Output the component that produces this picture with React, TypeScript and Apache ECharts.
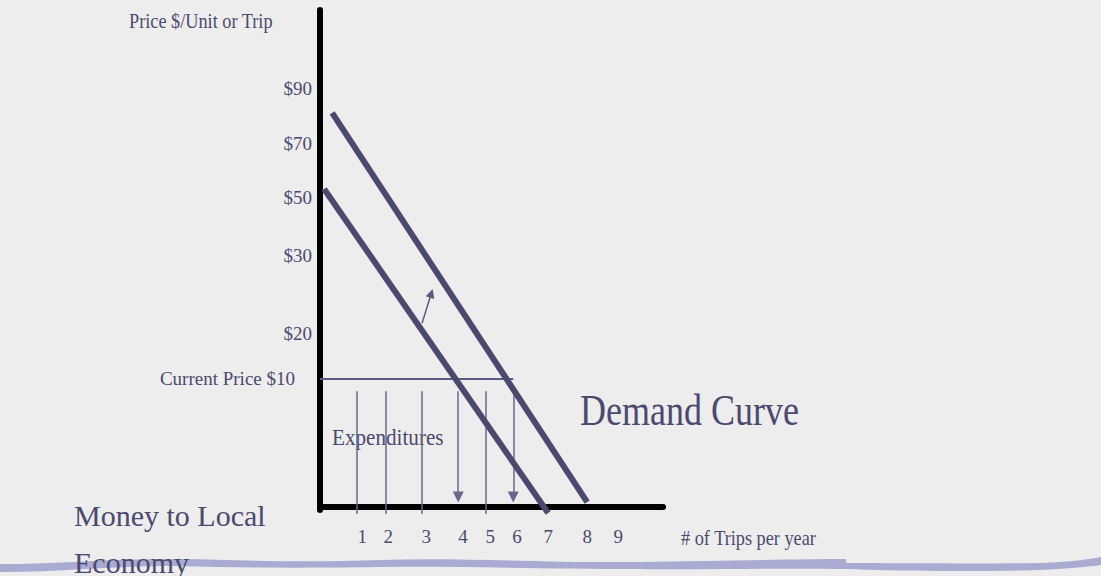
import React, { useEffect, useRef } from "react";
import * as echarts from "echarts";

// ---- data (in axis units) ----
const tripLabels = ["1", "2", "3", "4", "5", "6", "7", "8", "9"];
const tripLabelPos = [1.04, 1.85, 3.04, 4.19, 5.04, 5.88, 6.85, 8.07, 9.04];

const priceLabels = ["$90", "$70", "$50", "$30", "$20", "Current Price $10"];
const priceLevels = [84.3, 73.2, 62.2, 50.7, 35.0, 25.8];

const demandOriginal = [[-0.15, 64.0], [6.85, -1.2]];
const demandShifted = [[0.1, 79.3], [8.07, 1.0]];
const currentPriceLine = [[-0.28, 25.8], [5.76, 25.8]];

const expenditureX = [0.88, 1.76, 2.91, 4.04, 4.91, 5.76];
const expenditureArrow = [false, false, false, true, false, true];
const expenditureTop = 23.3;
const expenditureBottom = -1.4;
const expenditureArrowTip = 2.0;

const shiftArrow = [[2.91, 37.0], [3.2, 43.0]];

const X_MIN = -0.28;
const X_MAX = 10.44;
const Y_MIN = -0.6;
const Y_MAX = 100;

const SLATE = "#4b4a6e";
const FONT = "Liberation Serif";

const bandPath =
  "M0,564 C60,564 120,558 180,559 C240,560 300,563 380,560 C460,557 540,563 640,562 C720,561 800,559 846,559 L846,563 C900,563 980,564 1040,563 C1070,562 1090,559 1101,557 L1101,565 C1080,568 1040,571 980,571 C900,571 870,570 846,569 C780,568 700,570 640,569 C540,569 460,566 380,567 C300,568 240,568 180,566 C120,565 60,572 0,572 Z";

function labelFor(values: number[], labels: string[], v: number) {
  let best = 0;
  let d = Infinity;
  values.forEach((x, i) => {
    const dd = Math.abs(x - v);
    if (dd < d) {
      d = dd;
      best = i;
    }
  });
  return labels[best];
}

export default function App() {
  const ref = useRef<HTMLDivElement>(null);
  useEffect(() => {
    if (!ref.current) return;
    echarts.graphic.registerShape("band", echarts.graphic.extendPath(bandPath, {}));
    const chart = echarts.init(ref.current, null, { renderer: "svg" });

    const expLines = expenditureX.map((x, i) => ({
      coords: [
        [x, expenditureTop],
        [x, expenditureArrow[i] ? expenditureArrowTip : expenditureBottom],
      ],
      symbol: expenditureArrow[i] ? ["none", "triangle"] : ["none", "none"],
    }));

    const option: any = {
      animation: false,
      backgroundColor: "#ededed",
      grid: { left: 320, right: 438, top: 10, bottom: 66, containLabel: false },
      xAxis: {
        type: "value",
        min: X_MIN,
        max: X_MAX,
        axisLine: { show: true, onZero: true, lineStyle: { color: "#000", width: 6 } },
        axisTick: { show: false },
        splitLine: { show: false },
        axisLabel: {
          customValues: tripLabelPos,
          formatter: (v: number) => labelFor(tripLabelPos, tripLabels, v),
          color: SLATE,
          fontFamily: FONT,
          fontSize: 19,
          margin: 26,
          verticalAlign: "middle",
        },
      },
      yAxis: {
        type: "value",
        min: Y_MIN,
        max: Y_MAX,
        axisLine: { show: true, onZero: false, lineStyle: { color: "#000", width: 6 } },
        axisTick: { show: false },
        splitLine: { show: false },
        axisLabel: {
          customValues: priceLevels,
          formatter: (v: number) => {
            const t = labelFor(priceLevels, priceLabels, v);
            return t.indexOf("Current") === 0 ? "{c|" + t + "}" : t;
          },
          color: SLATE,
          fontFamily: FONT,
          fontSize: 19,
          margin: 8,
          rich: {
            c: { color: SLATE, fontFamily: FONT, fontSize: 19, padding: [0, 17, 0, 0] },
          },
        },
      },
      series: [
        {
          type: "lines",
          coordinateSystem: "cartesian2d",
          clip: false,
          symbol: ["none", "none"],
          lineStyle: { color: SLATE, width: 6, opacity: 1, cap: "butt" },
          data: [{ coords: demandOriginal }, { coords: demandShifted }],
          z: 3,
        },
        {
          type: "lines",
          coordinateSystem: "cartesian2d",
          clip: false,
          symbol: ["none", "none"],
          lineStyle: { color: "#5a5a82", width: 2, opacity: 1 },
          data: [{ coords: currentPriceLine }],
          z: 2,
        },
        {
          type: "lines",
          coordinateSystem: "cartesian2d",
          clip: false,
          symbolSize: [8, 11],
          lineStyle: { color: "#68688e", width: 1.5, opacity: 1 },
          itemStyle: { color: "#5a5a82" },
          data: expLines,
          z: 2,
        },
        {
          type: "lines",
          coordinateSystem: "cartesian2d",
          clip: false,
          symbol: ["none", "triangle"],
          symbolSize: [7, 9],
          lineStyle: { color: "#5a5a82", width: 1.5, opacity: 1 },
          data: [{ coords: shiftArrow }],
          z: 2,
        },
      ],
      graphic: [
        { type: "band", x: 0, y: 0, z: 0, style: { fill: "#a9abd3" } },
        {
          type: "text",
          x: 129,
          y: 21,
          scaleX: 0.87,
          style: { text: "Price $/Unit or Trip", fill: SLATE, fontFamily: FONT, fontSize: 21, align: "left", verticalAlign: "middle" },
        },
        {
          type: "text",
          x: 681,
          y: 538,
          scaleX: 0.87,
          style: { text: "# of Trips per year", fill: SLATE, fontFamily: FONT, fontSize: 21, align: "left", verticalAlign: "middle" },
        },
        {
          type: "text",
          x: 332,
          y: 438,
          scaleX: 0.94,
          style: { text: "Expenditures", fill: SLATE, fontFamily: FONT, fontSize: 22.5, align: "left", verticalAlign: "middle" },
        },
        {
          type: "text",
          x: 580,
          y: 410,
          scaleX: 0.8,
          style: { text: "Demand Curve", fill: SLATE, fontFamily: FONT, fontSize: 45, align: "left", verticalAlign: "middle" },
        },
        {
          type: "text",
          x: 74,
          y: 515,
          style: { text: "Money to Local", fill: SLATE, fontFamily: FONT, fontSize: 30, align: "left", verticalAlign: "middle" },
        },
        {
          type: "text",
          x: 74,
          y: 562,
          z: 10,
          style: { text: "Economy", fill: SLATE, fontFamily: FONT, fontSize: 30, align: "left", verticalAlign: "middle" },
        },
      ],
    };
    chart.setOption(option);
    return () => chart.dispose();
  }, []);
  return (
    <div
      ref={ref}
      style={{ position: "fixed", left: 0, top: 0, width: 1101, height: 576 }}
    />
  );
}
